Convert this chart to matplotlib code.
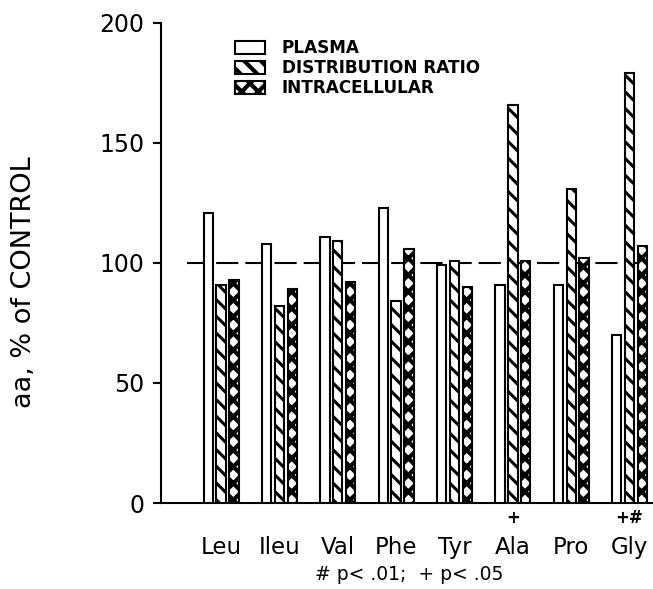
import matplotlib
matplotlib.use("Agg")
import matplotlib.pyplot as plt
import numpy as np

# amino acids and % of control values
amino_acids = ["Leu", "Ileu", "Val", "Phe", "Tyr", "Ala", "Pro", "Gly"]
plasma = [121, 108, 111, 123, 99, 91, 91, 70]
dist_ratio = [91, 82, 109, 84, 101, 166, 131, 179]
intracellular = [93, 89, 92, 106, 90, 101, 102, 107]
markers = ["", "", "", "", "", "+", "", "+#"]
footnote = "# p< .01;  + p< .05"

plt.rcParams["font.family"] = "DejaVu Sans"
plt.rcParams["lines.scale_dashes"] = False

fig = plt.figure(figsize=(6.53, 5.89), dpi=100)
ax = fig.add_axes([0.2466, 0.146, 0.752, 0.815])

x = np.arange(len(amino_acids))
w = 0.16
off = 0.22
ax.bar(x - off, plasma, w, facecolor="white", edgecolor="black",
       linewidth=1.5, label="PLASMA", zorder=3)
plt.rcParams["hatch.linewidth"] = 2.2
ax.bar(x, dist_ratio, w, facecolor="white", edgecolor="black",
       linewidth=1.5, hatch="\\\\", label="DISTRIBUTION RATIO", zorder=3)
plt.rcParams["hatch.linewidth"] = 3.0
ax.bar(x + off, intracellular, w, facecolor="white", edgecolor="black",
       linewidth=1.5, hatch="xx", label="INTRACELLULAR", zorder=3)

# control level
ax.axhline(100, xmin=0.053, xmax=1, color="black", lw=1.5,
           dashes=(16, 5), zorder=2)

ax.set_xlim(-1.028, 7.385)
ax.set_ylim(0, 200)
ax.set_yticks([0, 50, 100, 150, 200])
ax.tick_params(axis="y", length=6, width=1.5, pad=6, labelsize=17)
ax.set_xticks(x)
ax.set_xticklabels(amino_acids)
ax.tick_params(axis="x", length=0, pad=24, labelsize=16.5)
for s in ["top", "right"]:
    ax.spines[s].set_visible(False)
for s in ["left", "bottom"]:
    ax.spines[s].set_linewidth(1.5)

for i, m in enumerate(markers):
    if m:
        ax.annotate(m, xy=(i, 0), xytext=(0, -11), textcoords="offset points",
                    ha="center", va="center", fontsize=12, fontweight="bold")

fig.text(24 / 653, 1 - 282 / 589, "aa, % of CONTROL", rotation=90,
         ha="center", va="center", fontsize=19.5)
fig.text(409 / 653, 1 - 575 / 589, footnote, ha="center", va="center",
         fontsize=13.5)

ax.legend(loc="upper left", bbox_to_anchor=(0.151, 0.966), frameon=False,
          borderpad=0, borderaxespad=0, handlelength=1.76, handleheight=0.75,
          handletextpad=1.0, labelspacing=0.12,
          prop={"size": 12.2, "weight": "bold"})

fig.savefig("out.png", dpi=100)
